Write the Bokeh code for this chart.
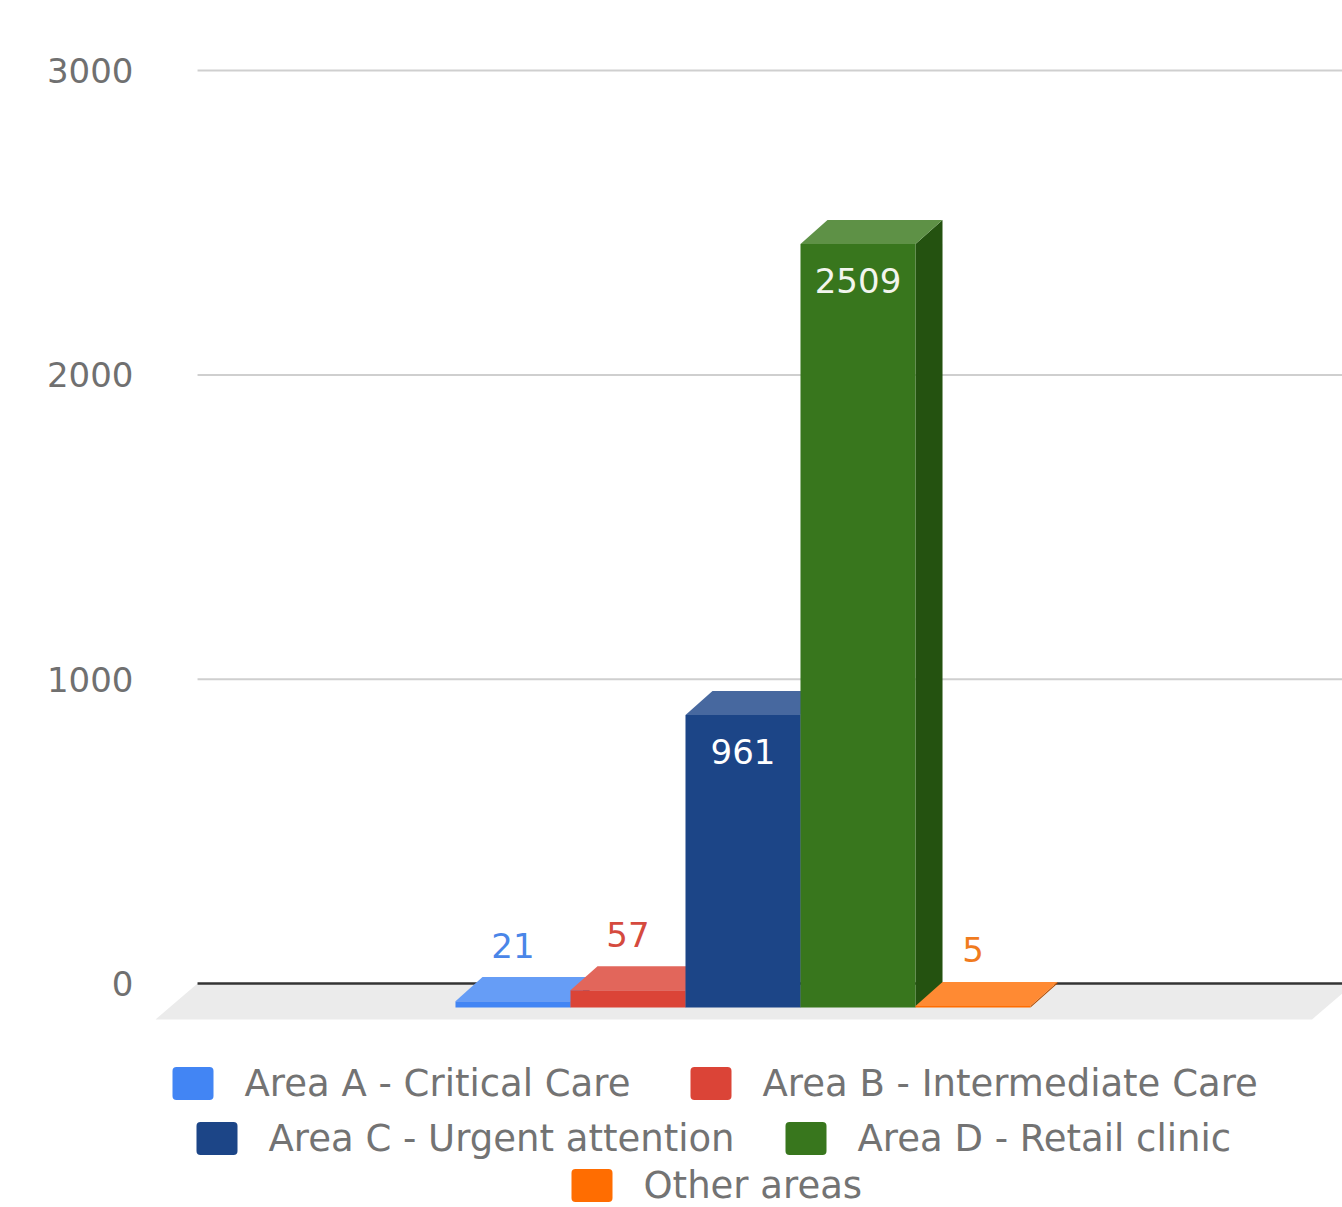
from bokeh.plotting import figure
from bokeh.models import Range1d, FixedTicker
from bokeh.embed import file_html
from bokeh.resources import INLINE
from bokeh.core.properties import value

# ---- data ----
categories = [
    "Area A - Critical Care",
    "Area B - Intermediate Care",
    "Area C - Urgent attention",
    "Area D - Retail clinic",
    "Other areas",
]
counts = [21, 57, 961, 2509, 5]
y_ticks = [0, 1000, 2000, 3000]

# ---- styling ----
front_colors = ["#4285F4", "#DB4437", "#1C4587", "#38761D", "#FF6D01"]
top_colors = ["#669DF6", "#E2665B", "#47689F", "#5E9146", "#FF8A33"]
side_colors = ["#2E5DAB", "#992F27", "#13305E", "#245210", "#B24C00"]
label_colors = ["#4A86E8", "#D54A3E", "#FFFFFF", "#F2F5EE", "#F07B1E"]

FONT = "DejaVu Sans"
AXIS_GRAY = "#707070"

# pseudo-3D depth: horizontal shift in bar widths, vertical shift in value units
DX, DY = 0.235, 79.0
FLOOR_DX, FLOOR_DY = 0.365, 118.0
AREA_LEFT, AREA_RIGHT = -4.978, 4.978

W, H = 1342, 1207
p = figure(
    width=W, height=H,
    x_range=Range1d(-5.387, 4.978), y_range=Range1d(-736.1, 3164.6),
    output_backend="svg", toolbar_location=None, x_axis_location=None,
    min_border_left=150, min_border_right=0, min_border_top=20, min_border_bottom=0,
)
p.outline_line_color = None
p.grid.grid_line_color = None
p.background_fill_color = "white"

# pixel-space ranges for the legend block under the chart
p.extra_x_ranges = {"px": Range1d(150, W)}
p.extra_y_ranges = {"py": Range1d(H, 20)}

yax = p.yaxis[0]
yax.ticker = FixedTicker(ticks=y_ticks)
yax.axis_line_color = None
yax.major_tick_line_color = None
yax.minor_tick_line_color = None
yax.major_tick_out = 0
yax.major_tick_in = 0
yax.major_label_standoff = 17
yax.major_label_text_font = FONT
yax.major_label_text_font_size = "34px"
yax.major_label_text_color = AXIS_GRAY

# gridlines on the back wall
grid_vals = [t for t in y_ticks if t > 0]
p.segment(x0=[AREA_LEFT] * len(grid_vals), y0=grid_vals,
          x1=[AREA_RIGHT + 0.1] * len(grid_vals), y1=grid_vals,
          line_color="#CFCFCF", line_width=2)

# floor
p.patch([AREA_LEFT, AREA_RIGHT + 0.1, AREA_RIGHT + 0.1 - FLOOR_DX, AREA_LEFT - FLOOR_DX],
        [0, 0, -FLOOR_DY, -FLOOR_DY], fill_color="#EBEBEB", line_color=None)
p.segment(x0=[AREA_LEFT], y0=[0], x1=[AREA_RIGHT + 0.1], y1=[0],
          line_color="#333333", line_width=2.5)

# bars: side, front and top face of each, drawn left to right
xs, ys, fills = [], [], []
n = len(counts)
for i, v in enumerate(counts):
    cx = i - (n - 1) / 2
    l, r = cx - 0.5, cx + 0.5
    # right side face
    xs.append([r - DX, r - DX, r, r])
    ys.append([-DY, v - DY, v, 0])
    fills.append(side_colors[i])
    # front face
    xs.append([l - DX, r - DX, r - DX, l - DX])
    ys.append([-DY, -DY, v - DY, v - DY])
    fills.append(front_colors[i])
    # top face
    xs.append([l - DX, r - DX, r, l])
    ys.append([v - DY, v - DY, v, v])
    fills.append(top_colors[i])

p.patches(xs, ys, fill_color=fills, line_color=None)

# value labels: inside tall bars, above short ones
inside_x, inside_y, inside_t, inside_c = [], [], [], []
out_x, out_y, out_t, out_c = [], [], [], []
for i, v in enumerate(counts):
    cx = i - (n - 1) / 2 - DX
    if v > 0.1 * y_ticks[-1]:
        inside_x.append(cx); inside_y.append(v - DY)
        inside_t.append(str(v)); inside_c.append(label_colors[i])
    else:
        out_x.append(cx); out_y.append(v)
        out_t.append(str(v)); out_c.append(label_colors[i])

p.text(x=inside_x, y=inside_y, text=inside_t, text_color=inside_c,
       text_font=value(FONT), text_font_size=value("34px"),
       text_align="center", text_baseline="alphabetic", y_offset=36)
p.text(x=out_x, y=out_y, text=out_t, text_color=out_c,
       text_font=value(FONT), text_font_size=value("34px"),
       text_align="center", text_baseline="alphabetic", y_offset=-32)

# ---- legend ----
# (series index, swatch left, row centre) in page pixels
legend_slots = [(0, 172, 1083), (1, 690, 1083), (2, 196, 1138), (3, 785, 1138), (4, 571, 1185)]
sw_l, sw_r, sw_t, sw_b, sw_c = [], [], [], [], []
tx, ty, tt = [], [], []
for idx, left, cy in legend_slots:
    sw_l.append(left); sw_r.append(left + 41)
    sw_t.append(cy - 16.5); sw_b.append(cy + 16.5)
    sw_c.append(front_colors[idx])
    tx.append(left + 72); ty.append(cy); tt.append(categories[idx])

p.quad(left=sw_l, right=sw_r, top=sw_t, bottom=sw_b, fill_color=sw_c,
       line_color=None, border_radius=4, x_range_name="px", y_range_name="py")
p.text(x=tx, y=ty, text=tt, text_color="#737373", text_font=value(FONT),
       text_font_size=value("37px"), text_align="left", text_baseline="middle",
       x_range_name="px", y_range_name="py")

open("out.html", "w").write(file_html(p, INLINE))
